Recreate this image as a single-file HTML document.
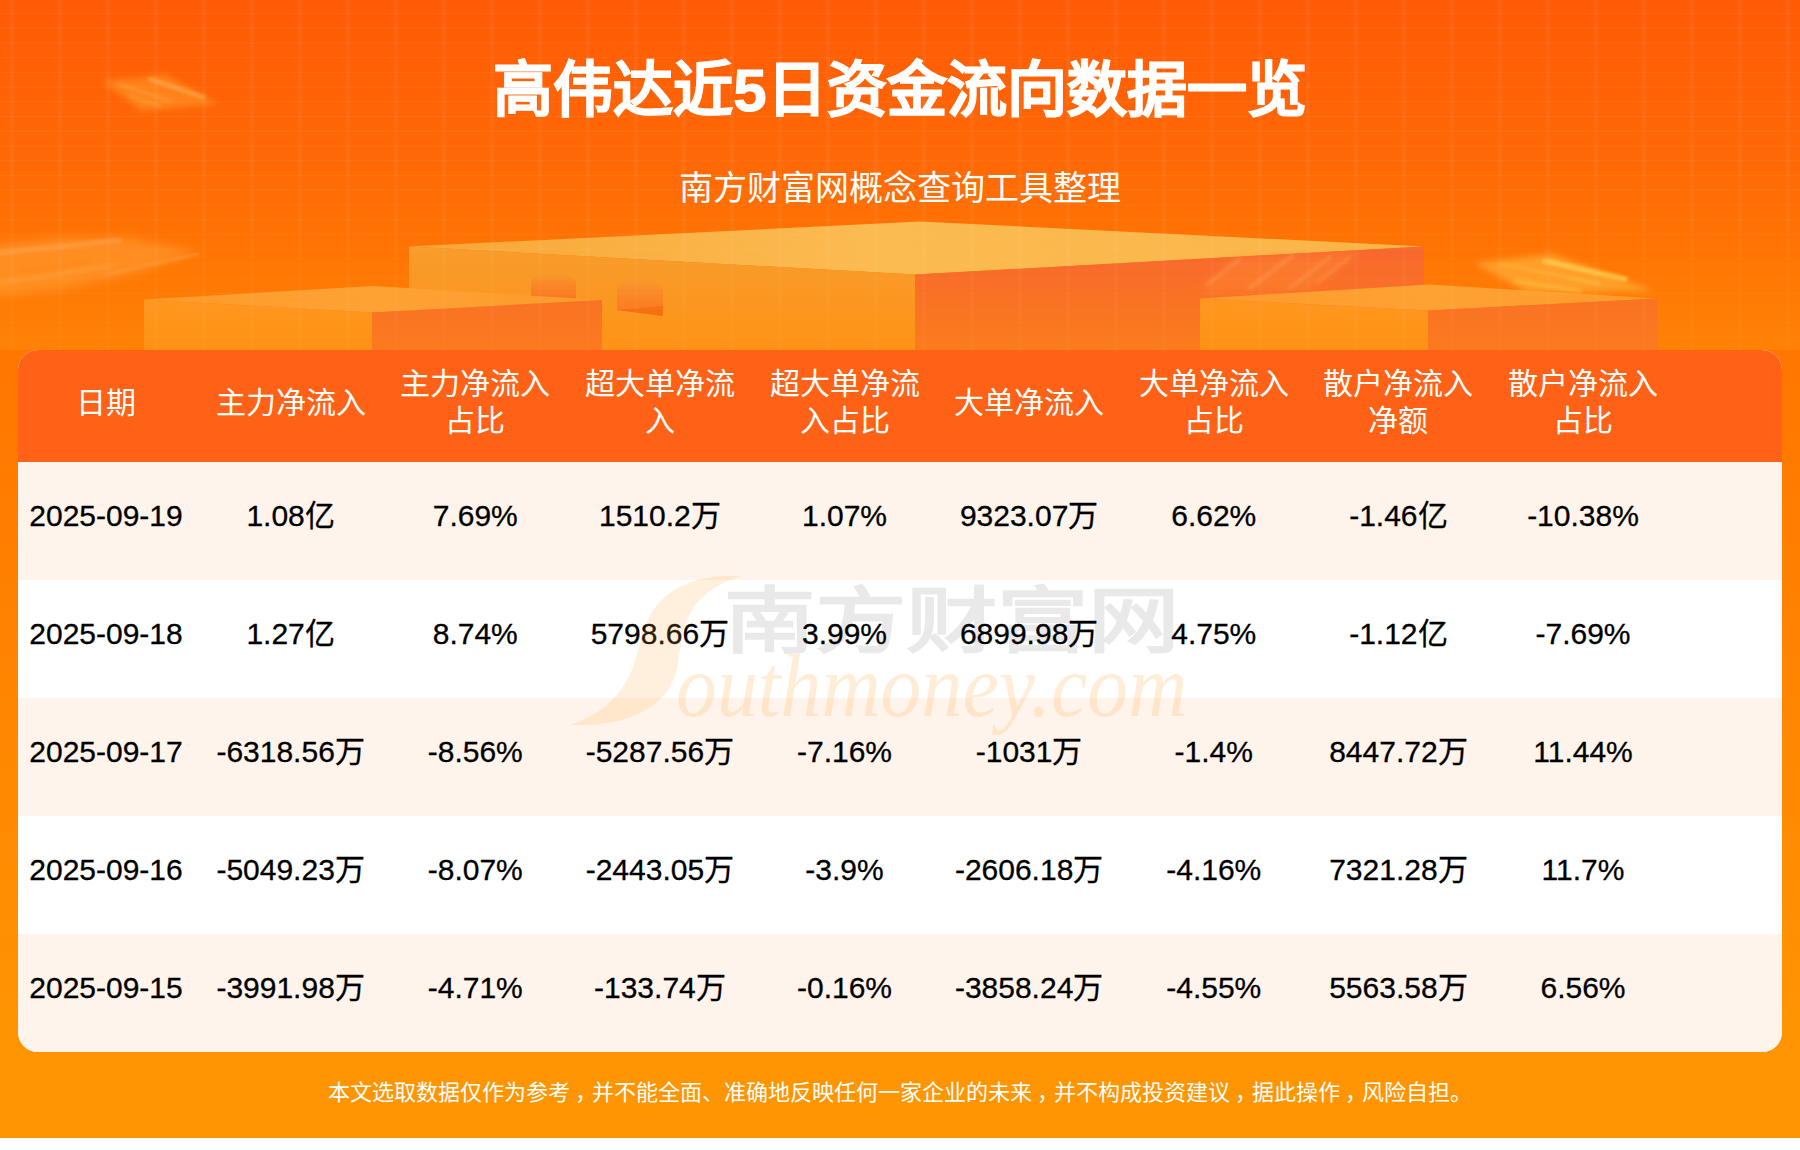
<!DOCTYPE html>
<html lang="zh-CN">
<head>
<meta charset="utf-8">
<title>高伟达近5日资金流向数据一览</title>
<style>
*{box-sizing:border-box;margin:0;padding:0}
html,body{width:1800px;height:1150px;background:#fff;overflow:hidden}
body{font-family:"Liberation Sans",sans-serif;position:relative}
#page{position:absolute;left:0;top:0;width:1800px;height:1138px;overflow:hidden;
  background:linear-gradient(180deg,#ff7600 0,#ff7600 350px,#ff9503 1050px,#ff9503 1138px)}
#hero{position:absolute;left:0;top:0;width:1800px;height:350px;display:block}
#title{position:absolute;left:0;top:51px;width:1800px;text-align:center;color:#fff;
  font-weight:bold;font-size:60px;line-height:80px;white-space:nowrap;letter-spacing:0;-webkit-text-stroke:1.1px #fff}
#sub{position:absolute;left:0;top:165px;width:1800px;text-align:center;color:#fff;
  font-size:34px;line-height:46px;white-space:nowrap}
#card{position:absolute;left:18px;top:350px;width:1764px;height:702px;border-radius:20px;
  overflow:hidden;background:#fff}
#thead{position:absolute;left:0;top:0;width:1764px;height:112px;background:#ff6216}
.row{position:absolute;left:0;width:1764px;height:118px}
.odd{background:#fff4eb}
.even{background:#fff}
.c{position:absolute;width:186px;text-align:center;white-space:nowrap}
#thead .c{color:#fff;font-size:30px;line-height:37px}
.row .c{color:#000;font-size:30px;line-height:40px;top:33.5px;-webkit-text-stroke:0.3px #000}
#foot{position:absolute;left:0;top:1077px;width:1800px;text-align:center;color:#fff;
  font-size:22px;line-height:32px;white-space:nowrap}
.cm{position:relative;left:5px}
#wm{position:absolute;left:540px;top:560px;width:700px;height:200px;pointer-events:none}
</style>
</head>
<body>
<div id="page">
<svg id="hero" width="1800" height="350" viewBox="0 0 1800 350">
  <defs>
    <linearGradient id="bg" x1="0" y1="0" x2="0" y2="1">
      <stop offset="0" stop-color="#ff5a05"/>
      <stop offset="0.45" stop-color="#ff6806"/>
      <stop offset="0.75" stop-color="#ff7604"/>
      <stop offset="1" stop-color="#ff8206"/>
    </linearGradient>
    <linearGradient id="bigL" x1="0" y1="0" x2="0" y2="1">
      <stop offset="0" stop-color="#f89c2c"/><stop offset="1" stop-color="#fd9316"/>
    </linearGradient>
    <linearGradient id="bigR" x1="0" y1="0" x2="0" y2="1">
      <stop offset="0" stop-color="#f8672e"/><stop offset="1" stop-color="#fb7c1c"/>
    </linearGradient>
    <linearGradient id="bigT" x1="0" y1="0" x2="1" y2="0">
      <stop offset="0" stop-color="#f9a636"/><stop offset="0.45" stop-color="#fbbb50"/><stop offset="1" stop-color="#fbb548"/>
    </linearGradient>
    <linearGradient id="smL" x1="0" y1="0" x2="0" y2="1">
      <stop offset="0" stop-color="#ff9620"/><stop offset="1" stop-color="#ff9214"/>
    </linearGradient>
    <linearGradient id="smR" x1="0" y1="0" x2="0" y2="1">
      <stop offset="0" stop-color="#fa7224"/><stop offset="1" stop-color="#fb7a1e"/>
    </linearGradient>
    <linearGradient id="smT" x1="0" y1="0" x2="1" y2="0">
      <stop offset="0" stop-color="#fd9a2a"/><stop offset="0.5" stop-color="#fea234"/><stop offset="1" stop-color="#fd9a2a"/>
    </linearGradient>
    <linearGradient id="win" x1="0" y1="0" x2="0" y2="1">
      <stop offset="0" stop-color="#f9982a"/><stop offset="0.35" stop-color="#fa8a28"/><stop offset="1" stop-color="#fa7620"/>
    </linearGradient>
    <pattern id="gv" x="10" y="0" width="48" height="350" patternUnits="userSpaceOnUse">
      <rect x="0" y="0" width="4" height="350" fill="#fff" fill-opacity="0.048"/>
    </pattern>
    <pattern id="gh" x="0" y="13" width="1800" height="14.73" patternUnits="userSpaceOnUse">
      <rect x="0" y="0" width="1800" height="1" fill="#fff" fill-opacity="0.06"/>
    </pattern>
    <linearGradient id="gm" x1="0" y1="0" x2="0" y2="1"><stop offset="0" stop-color="#fff" stop-opacity="1"/><stop offset="0.5" stop-color="#fff" stop-opacity="0.95"/><stop offset="0.8" stop-color="#fff" stop-opacity="0.55"/><stop offset="1" stop-color="#fff" stop-opacity="0.4"/></linearGradient>
    <mask id="gmask" maskUnits="userSpaceOnUse" x="0" y="0" width="1800" height="350"><rect x="0" y="0" width="1800" height="350" fill="url(#gm)"/></mask>
    <filter id="b6" x="-30%" y="-80%" width="160%" height="260%"><feGaussianBlur stdDeviation="5"/></filter>
    <filter id="b2" x="-30%" y="-80%" width="160%" height="260%"><feGaussianBlur stdDeviation="1.6"/></filter>
    <filter id="b3" x="-30%" y="-80%" width="160%" height="260%"><feGaussianBlur stdDeviation="3"/></filter>
    <filter id="b10" x="-30%" y="-80%" width="160%" height="260%"><feGaussianBlur stdDeviation="9"/></filter>
  </defs>
  <rect x="0" y="0" width="1800" height="350" fill="url(#bg)"/>
  <!-- big box -->
  <polygon points="409,246.5 920,221.5 1424,246.5 915,274.5" fill="url(#bigT)"/>
  <polygon points="409,246.5 915,274.5 915,350 409,350" fill="url(#bigL)"/>
  <polygon points="915,274.5 1424,246.5 1424,350 915,350" fill="url(#bigR)"/>
  <!-- windows on big box -->
  <path d="M531,298 L531,282 Q531,274 553,274 Q576,274 576,283 L576,299 Z" fill="url(#win)"/>
  <path d="M617,310 L617,290 Q617,280 640,280 Q663,281 663,292 L663,316 Z" fill="url(#win)"/>
  <polygon points="617,310 663,306 663,316" fill="#f5700e"/>
  <!-- streak on big box right face -->
  <g filter="url(#b6)">
    <polygon points="1198,292 1232,258 1362,251 1312,290" fill="#ff8c34" fill-opacity="0.38"/>
  </g>
  <g filter="url(#b2)" stroke-linecap="round" fill="none" stroke="#ff9a50" stroke-opacity="0.4">
    <line x1="1208" y1="284" x2="1240" y2="259" stroke-width="4"/>
    <line x1="1250" y1="288" x2="1292" y2="256" stroke-width="5"/>
    <line x1="1290" y1="288" x2="1330" y2="257" stroke-width="4"/>
    <line x1="1318" y1="282" x2="1350" y2="257" stroke-width="3"/>
  </g>
  <!-- small left box -->
  <polygon points="144,299.5 373,286 602,300 372,312.5" fill="url(#smT)"/>
  <polygon points="144,299.5 372,312.5 372,350 144,350" fill="url(#smL)"/>
  <polygon points="372,312.5 602,300 602,350 372,350" fill="url(#smR)"/>
  <!-- small right box -->
  <polygon points="1200,298.5 1430,284.5 1657,298.5 1428,310.5" fill="url(#smT)"/>
  <polygon points="1200,298.5 1428,310.5 1428,350 1200,350" fill="url(#smL)"/>
  <polygon points="1428,310.5 1657,298.5 1657,350 1428,350" fill="url(#smR)"/>
  <!-- swooshes -->
  <g filter="url(#b3)">
    <polygon points="102,81 166,75 218,104 142,111" fill="#ff8c22" fill-opacity="0.8"/>
    <polygon points="1474,263 1552,254 1654,291 1528,293" fill="#ffa62e" fill-opacity="0.85"/>
  </g>
  <g filter="url(#b2)" stroke-linecap="round" fill="none">
    <line x1="150" y1="79" x2="203" y2="97" stroke="#ffa848" stroke-width="4" stroke-opacity="0.7"/>
    <line x1="118" y1="84" x2="170" y2="101" stroke="#ffa040" stroke-width="3" stroke-opacity="0.55"/>
    <line x1="130" y1="96" x2="160" y2="106" stroke="#ff9a30" stroke-width="3" stroke-opacity="0.6"/>
    <line x1="135" y1="79" x2="185" y2="97" stroke="#ff6a08" stroke-width="1.6" stroke-opacity="0.35"/>
    <line x1="1545" y1="261" x2="1625" y2="279" stroke="#ffd050" stroke-width="5" stroke-opacity="0.75"/>
    <line x1="1500" y1="264" x2="1600" y2="284" stroke="#ffc44a" stroke-width="3" stroke-opacity="0.5"/>
    <line x1="1515" y1="281" x2="1580" y2="291" stroke="#ffc040" stroke-width="3.5" stroke-opacity="0.6"/>
    <line x1="1490" y1="262" x2="1570" y2="280" stroke="#ff8a10" stroke-width="1.6" stroke-opacity="0.35"/>
    <line x1="104" y1="275" x2="198" y2="254" stroke="#ffc080" stroke-width="2" stroke-opacity="0.45"/>
  </g>
  <g filter="url(#b6)">
    <polygon points="-20,246 60,238 130,238 196,251 140,272 60,290 -20,298" fill="#ff9c34" fill-opacity="0.6"/>
  </g>
  <g filter="url(#b2)" stroke-linecap="round" fill="none">
    <line x1="0" y1="253" x2="120" y2="240" stroke="#ffb060" stroke-width="5" stroke-opacity="0.4"/>
    <line x1="0" y1="283" x2="110" y2="266" stroke="#ffa848" stroke-width="5" stroke-opacity="0.35"/>
    <line x1="20" y1="271" x2="90" y2="262" stroke="#ff7a10" stroke-width="2" stroke-opacity="0.35"/>
  </g>
  <!-- grid overlay -->
  <g mask="url(#gmask)">
    <rect x="0" y="0" width="1800" height="350" fill="url(#gv)"/>
    <rect x="0" y="0" width="1800" height="350" fill="url(#gh)"/>
  </g>
</svg>
<div id="title">高伟达近5日资金流向数据一览</div>
<div id="sub">南方财富网概念查询工具整理</div>
<div id="card">
  <div id="thead">
    <div class="c" style="left:-5.0px;top:34px">日期</div>
    <div class="c" style="left:179.62px;top:34px">主力净流入</div>
    <div class="c" style="left:364.25px;top:15px">主力净流入<br>占比</div>
    <div class="c" style="left:548.88px;top:15px">超大单净流<br>入</div>
    <div class="c" style="left:733.5px;top:15px">超大单净流<br>入占比</div>
    <div class="c" style="left:918.12px;top:34px">大单净流入</div>
    <div class="c" style="left:1102.75px;top:15px">大单净流入<br>占比</div>
    <div class="c" style="left:1287.38px;top:15px">散户净流入<br>净额</div>
    <div class="c" style="left:1472.0px;top:15px">散户净流入<br>占比</div>
  </div>
  <div class="row odd" style="top:112px">
    <div class="c" style="left:-5.0px">2025-09-19</div>
    <div class="c" style="left:179.62px">1.08亿</div>
    <div class="c" style="left:364.25px">7.69%</div>
    <div class="c" style="left:548.88px">1510.2万</div>
    <div class="c" style="left:733.5px">1.07%</div>
    <div class="c" style="left:918.12px">9323.07万</div>
    <div class="c" style="left:1102.75px">6.62%</div>
    <div class="c" style="left:1287.38px">-1.46亿</div>
    <div class="c" style="left:1472.0px">-10.38%</div>
  </div>
  <div class="row even" style="top:230px">
    <div class="c" style="left:-5.0px">2025-09-18</div>
    <div class="c" style="left:179.62px">1.27亿</div>
    <div class="c" style="left:364.25px">8.74%</div>
    <div class="c" style="left:548.88px">5798.66万</div>
    <div class="c" style="left:733.5px">3.99%</div>
    <div class="c" style="left:918.12px">6899.98万</div>
    <div class="c" style="left:1102.75px">4.75%</div>
    <div class="c" style="left:1287.38px">-1.12亿</div>
    <div class="c" style="left:1472.0px">-7.69%</div>
  </div>
  <div class="row odd" style="top:348px">
    <div class="c" style="left:-5.0px">2025-09-17</div>
    <div class="c" style="left:179.62px">-6318.56万</div>
    <div class="c" style="left:364.25px">-8.56%</div>
    <div class="c" style="left:548.88px">-5287.56万</div>
    <div class="c" style="left:733.5px">-7.16%</div>
    <div class="c" style="left:918.12px">-1031万</div>
    <div class="c" style="left:1102.75px">-1.4%</div>
    <div class="c" style="left:1287.38px">8447.72万</div>
    <div class="c" style="left:1472.0px">11.44%</div>
  </div>
  <div class="row even" style="top:466px">
    <div class="c" style="left:-5.0px">2025-09-16</div>
    <div class="c" style="left:179.62px">-5049.23万</div>
    <div class="c" style="left:364.25px">-8.07%</div>
    <div class="c" style="left:548.88px">-2443.05万</div>
    <div class="c" style="left:733.5px">-3.9%</div>
    <div class="c" style="left:918.12px">-2606.18万</div>
    <div class="c" style="left:1102.75px">-4.16%</div>
    <div class="c" style="left:1287.38px">7321.28万</div>
    <div class="c" style="left:1472.0px">11.7%</div>
  </div>
  <div class="row odd" style="top:584px">
    <div class="c" style="left:-5.0px">2025-09-15</div>
    <div class="c" style="left:179.62px">-3991.98万</div>
    <div class="c" style="left:364.25px">-4.71%</div>
    <div class="c" style="left:548.88px">-133.74万</div>
    <div class="c" style="left:733.5px">-0.16%</div>
    <div class="c" style="left:918.12px">-3858.24万</div>
    <div class="c" style="left:1102.75px">-4.55%</div>
    <div class="c" style="left:1287.38px">5563.58万</div>
    <div class="c" style="left:1472.0px">6.56%</div>
  </div>
</div>
<svg id="wm" width="700" height="200" viewBox="540 560 700 200">
  <path d="M741,576 C712,574 672,580 652,612 C638,636 640,662 622,688 C608,708 590,718 570,725 C612,727 650,716 668,690 C684,666 676,636 692,610 C703,592 722,582 741,576 Z" fill="#ffa436" fill-opacity="0.17"/>
  <text x="0" y="0" transform="translate(724 646) scale(1.27 1)" font-family="'Liberation Sans',sans-serif" font-weight="bold" font-size="72" fill="#000" fill-opacity="0.085">南方财富网</text>
  <text x="0" y="0" transform="translate(676 716) scale(0.93 1)" font-family="'Liberation Serif',serif" font-style="italic" font-size="88" fill="#ffa63c" fill-opacity="0.2">outhmoney.com</text>
</svg>
<div id="foot">本文选取数据仅作为参考<span class="cm">，</span>并不能全面、准确地反映任何一家企业的未来<span class="cm">，</span>并不构成投资建议<span class="cm">，</span>据此操作<span class="cm">，</span>风险自担。</div>
</div>
</body>
</html>
